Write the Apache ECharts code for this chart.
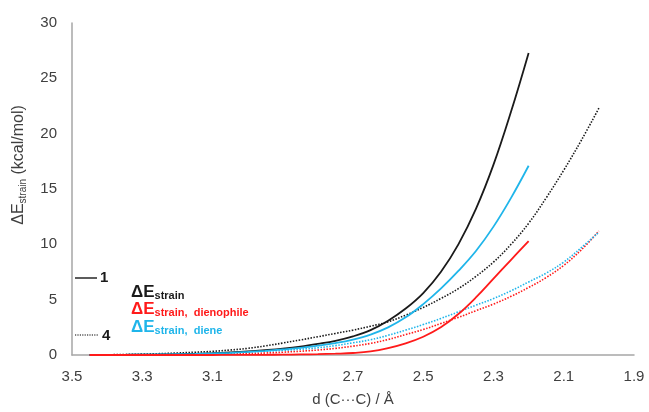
<!DOCTYPE html>
<html>
<head>
<meta charset="utf-8">
<script src="https://cdn.jsdelivr.net/npm/echarts@6/dist/echarts.min.js"></script>
<style>
  html, body { margin: 0; padding: 0; background: #fff; }
  #chart { width: 649px; height: 412px; }
</style>
</head>
<body>
<div id="chart"></div>
<script>
// d(C...C) scan points
const dSolid = [3.45, 3.40, 3.35, 3.30, 3.25, 3.20, 3.15, 3.10, 3.05, 3.00, 2.95, 2.90, 2.85,
  2.80, 2.75, 2.70, 2.65, 2.60, 2.55, 2.50, 2.45, 2.40, 2.35, 2.30, 2.25, 2.20];
const dDotted = [3.45, 3.40, 3.35, 3.30, 3.25, 3.20, 3.15, 3.10, 3.05, 3.00, 2.95, 2.90, 2.85,
  2.80, 2.75, 2.70, 2.65, 2.60, 2.55, 2.50, 2.45, 2.40, 2.35, 2.30, 2.25, 2.20, 2.15, 2.10, 2.05, 2.00];

// compound 1 (solid)
const strain1 = [0, 0.01, 0.02, 0.03, 0.05, 0.08, 0.11, 0.16, 0.23, 0.32, 0.44, 0.58, 0.76,
  1.0, 1.28, 1.68, 2.25, 3.1, 4.2, 5.6, 7.5, 10.0, 13.2, 17.2, 22.0, 27.3];
const dienophile1 = [0, 0, 0, 0, 0, 0, 0, 0, 0.01, 0.01, 0.02, 0.03, 0.05,
  0.08, 0.12, 0.18, 0.32, 0.62, 1.05, 1.65, 2.5, 3.7, 5.2, 6.9, 8.6, 10.3];
const diene1 = [0, 0.01, 0.02, 0.03, 0.05, 0.07, 0.1, 0.14, 0.2, 0.28, 0.38, 0.5, 0.64,
  0.84, 1.08, 1.4, 1.85, 2.5, 3.4, 4.6, 6.0, 7.6, 9.4, 11.6, 14.2, 17.1];

// compound 4 (dotted)
const strain4 = [0, 0.02, 0.05, 0.08, 0.12, 0.18, 0.25, 0.33, 0.45, 0.6, 0.82, 1.08, 1.36,
  1.65, 1.95, 2.25, 2.6, 3.0, 3.6, 4.3, 5.1, 6.0, 7.1, 8.4, 10.0, 11.9, 14.2, 16.7, 19.4, 22.3];
const dienophile4 = [0, 0, 0.01, 0.01, 0.02, 0.03, 0.04, 0.06, 0.09, 0.12, 0.18, 0.25, 0.34,
  0.45, 0.6, 0.8, 1.05, 1.4, 1.85, 2.3, 2.85, 3.4, 4.0, 4.6, 5.3, 6.1, 7.0, 8.1, 9.5, 11.2];
const diene4 = [0, 0.01, 0.02, 0.03, 0.05, 0.07, 0.1, 0.15, 0.2, 0.27, 0.34, 0.42, 0.52,
  0.65, 0.85, 1.1, 1.38, 1.78, 2.25, 2.75, 3.3, 3.9, 4.5, 5.1, 5.8, 6.6, 7.4, 8.4, 9.7, 11.1];

const BLACK = "#1a1a1a";
const RED = "#ff1a1a";
const CYAN = "#1fb5ea";
const FONT = "Liberation Sans";

function pairs(xs, ys) {
  return xs.map((x, i) => [x, ys[i]]);
}

function line(name, xs, ys, color, dotted) {
  return {
    name: name,
    type: "line",
    smooth: 0.4,
    showSymbol: false,
    data: pairs(xs, ys),
    lineStyle: dotted
      ? { color: color, width: 1.6, type: [1.5, 1.5] }
      : { color: color, width: 1.8 },
    z: dotted ? 2 : 3
  };
}

const chart = echarts.init(document.getElementById("chart"), null, { renderer: "canvas" });

chart.setOption({
  animation: false,
  backgroundColor: "#fff",
  grid: { left: 72, right: 15, top: 23, bottom: 52 },
  xAxis: {
    type: "value",
    inverse: true,
    min: 1.9,
    max: 3.5,
    interval: 0.2,
    name: "d (C\u00b7\u00b7\u00b7C) / \u00c5",
    nameLocation: "middle",
    nameGap: 37,
    nameTextStyle: { fontFamily: FONT, fontSize: 15, color: "#404040" },
    axisLine: { lineStyle: { color: "#a6a6a6", width: 1.5 } },
    axisTick: { show: false },
    splitLine: { show: false },
    axisLabel: {
      fontFamily: FONT, fontSize: 15, color: "#404040", margin: 14,
      formatter: v => v.toFixed(1)
    }
  },
  yAxis: {
    type: "value",
    min: 0,
    max: 30,
    interval: 5,
    name: "{a|\u0394E}{b|strain}{a| (kcal/mol)}",
    nameLocation: "middle",
    nameGap: 44,
    nameTextStyle: {
      padding: [0, 0, 0, 48],
      rich: {
        a: { fontFamily: FONT, fontSize: 16, color: "#404040" },
        b: { fontFamily: FONT, fontSize: 10, color: "#404040", padding: [8, 0, 0, 0] }
      }
    },
    axisLine: { show: true, lineStyle: { color: "#a6a6a6", width: 1.5 } },
    axisTick: { show: false },
    splitLine: { show: false },
    axisLabel: { fontFamily: FONT, fontSize: 15, color: "#404040", margin: 15 }
  },
  series: [
    line("strain 4", dDotted, strain4, BLACK, true),
    line("dienophile 4", dDotted, dienophile4, RED, true),
    line("diene 4", dDotted, diene4, CYAN, true),
    line("strain 1", dSolid, strain1, BLACK, false),
    line("diene 1", dSolid, diene1, CYAN, false),
    line("dienophile 1", dSolid, dienophile1, RED, false)
  ],
  graphic: [
    { type: "line", shape: { x1: 75, y1: 278, x2: 97, y2: 278 }, style: { stroke: "#333", lineWidth: 1.6 } },
    { type: "text", x: 100, y: 278, style: { text: "1", font: "bold 15px " + FONT, fill: "#1a1a1a", verticalAlign: "middle" } },
    { type: "line", shape: { x1: 75, y1: 335, x2: 99, y2: 335 }, style: { stroke: "#555", lineWidth: 1.4, lineDash: [1.2, 1.2] } },
    { type: "text", x: 102, y: 336, style: { text: "4", font: "bold 15px " + FONT, fill: "#1a1a1a", verticalAlign: "middle" } },
    {
      type: "text", x: 131, y: 292,
      style: {
        text: "{a|\u0394E}{b|strain}",
        verticalAlign: "middle",
        rich: {
          a: { font: "bold 17px " + FONT, fill: BLACK },
          b: { font: "bold 11px " + FONT, fill: BLACK, padding: [7, 0, 0, 0] }
        }
      }
    },
    {
      type: "text", x: 131, y: 309,
      style: {
        text: "{a|\u0394E}{b|strain,  dienophile}",
        verticalAlign: "middle",
        rich: {
          a: { font: "bold 17px " + FONT, fill: RED },
          b: { font: "bold 11px " + FONT, fill: RED, padding: [7, 0, 0, 0] }
        }
      }
    },
    {
      type: "text", x: 131, y: 327,
      style: {
        text: "{a|\u0394E}{b|strain,  diene}",
        verticalAlign: "middle",
        rich: {
          a: { font: "bold 17px " + FONT, fill: CYAN },
          b: { font: "bold 11px " + FONT, fill: CYAN, padding: [7, 0, 0, 0] }
        }
      }
    }
  ]
});
</script>
</body>
</html>
